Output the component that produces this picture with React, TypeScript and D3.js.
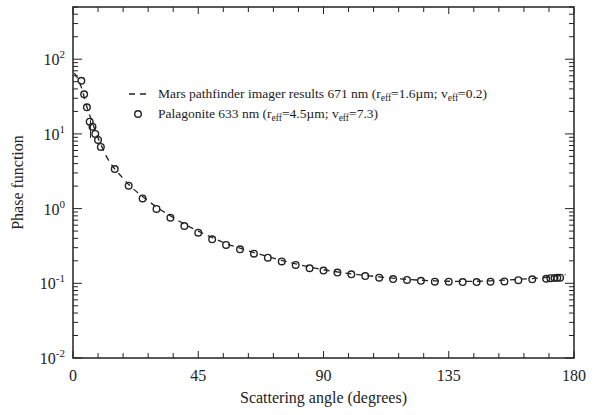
import React from 'react';
import * as d3 from 'd3';

// Palagonite 633 nm measured points [angle, phase function]
const palAngles = [3, 4, 5, 6, 7, 8, 9, 10, 15, 20, 25, 30, 35, 40, 45, 50, 55, 60, 65, 70, 75, 80, 85, 90, 95, 100, 105, 110, 115, 120, 125, 130, 135, 140, 145, 150, 155, 160, 165, 170, 171.5, 173, 174, 175];
const palValues = [51.5, 33.9, 22.7, 14.6, 12.5, 10, 8.3, 6.7, 3.39, 2.03, 1.37, 0.99, 0.755, 0.585, 0.476, 0.388, 0.326, 0.285, 0.249, 0.22, 0.196, 0.176, 0.159, 0.148, 0.139, 0.132, 0.125, 0.119, 0.114, 0.111, 0.108, 0.105, 0.105, 0.104, 0.104, 0.105, 0.106, 0.11, 0.113, 0.115, 0.117, 0.118, 0.119, 0.119];

// Mars pathfinder imager 671 nm curve
const marsAngles = [0.5, 2, 3, 5, 7, 9, 11, 12, 15, 17, 20, 25, 30, 35, 40, 45, 50, 55, 60, 70, 80, 90, 100, 110, 120, 130, 140, 150, 160, 170, 177];
const marsValues = [65, 52, 42, 23, 14, 8.8, 6.0, 5.0, 3.4, 2.8, 2.1, 1.45, 1.05, 0.8, 0.62, 0.5, 0.41, 0.34, 0.295, 0.228, 0.182, 0.152, 0.134, 0.122, 0.113, 0.108, 0.106, 0.108, 0.113, 0.12, 0.131];

// small vertical bar near the start
const barAngle = [6.3];
const barLow = [8.8];
const barHigh = [15.3];

const xTickValues = d3.range(0, 181, 9);
const xTickLabels = [0, 45, 90, 135, 180];
const yExponents = [-2, -1, 0, 1, 2];

const legendLabels = [
  { main: 'Mars pathfinder imager results 671 nm (r', s1: 'eff', mid: '=1.6\u00b5m; v', s2: 'eff', end: '=0.2)' },
  { main: 'Palagonite 633 nm (r', s1: 'eff', mid: '=4.5\u00b5m; v', s2: 'eff', end: '=7.3)' },
];

export default function App() {
  const width = 601;
  const height = 415;
  const margin = { top: 7, right: 27, bottom: 57, left: 73 };
  const w = width - margin.left - margin.right;
  const h = height - margin.top - margin.bottom;

  const x = d3.scaleLinear().domain([0, 180]).range([0, w]);
  const y = d3.scaleLog().domain([0.01, 500]).range([h, 0]);

  const marsData = marsAngles.map((a, i) => [a, marsValues[i]] as [number, number]);
  const palData = palAngles.map((a, i) => [a, palValues[i]] as [number, number]);

  const line = d3.line<[number, number]>()
    .x(d => x(d[0]))
    .y(d => y(d[1]))
    .curve(d3.curveMonotoneX);

  const yMinor: number[] = [];
  yExponents.forEach(e => {
    for (let m = 1; m <= 9; m++) {
      const v = m * Math.pow(10, e);
      if (v <= 500) yMinor.push(v);
    }
  });

  const font = '"Liberation Serif", "DejaVu Serif", serif';
  const transform = 'translate(' + margin.left + ',' + margin.top + ')';

  return (
    <svg width={width} height={height} style={{ position: 'absolute', left: 0, top: 0, background: '#fff' }}>
      <g transform={transform} fontFamily={font} fill="#222">
        <rect x={0} y={0} width={w} height={h} fill="none" stroke="#222" strokeWidth={1.5} />

        {xTickValues.map(t => {
          const len = t % 45 === 0 ? 7 : 5;
          return (
            <g key={'xt' + t}>
              <line x1={x(t)} x2={x(t)} y1={h} y2={h - len} stroke="#222" strokeWidth={1} />
              <line x1={x(t)} x2={x(t)} y1={0} y2={len} stroke="#222" strokeWidth={1} />
            </g>
          );
        })}
        {xTickLabels.map(t => (
          <text key={'xl' + t} x={x(t)} y={h + 23} textAnchor="middle" fontSize={16}>{t}</text>
        ))}

        {yMinor.map((v, i) => {
          const major = Math.abs(Math.log10(v) - Math.round(Math.log10(v))) < 1e-9;
          const len = major ? 9 : 5;
          return (
            <g key={'ym' + i}>
              <line x1={0} x2={len} y1={y(v)} y2={y(v)} stroke="#222" strokeWidth={1} />
              <line x1={w} x2={w - len} y1={y(v)} y2={y(v)} stroke="#222" strokeWidth={1} />
            </g>
          );
        })}
        {yExponents.map(e => (
          <text key={'yl' + e} x={-8} y={y(Math.pow(10, e)) + 6} textAnchor="end" fontSize={16}>
            10<tspan dy={-7} fontSize={11}>{e}</tspan>
          </text>
        ))}

        <text x={w / 2} y={h + 45} textAnchor="middle" fontSize={16}>Scattering angle (degrees)</text>
        <text transform={'translate(' + (-50) + ',' + h / 2 + ') rotate(-90)'} textAnchor="middle" fontSize={16}>Phase function</text>

        <path d={line(marsData) || ''} fill="none" stroke="#222" strokeWidth={1.3} strokeDasharray="6,5" />

        {barAngle.map((a, i) => (
          <line key={'eb' + i} x1={x(a)} x2={x(a)} y1={y(barHigh[i])} y2={y(barLow[i])} stroke="#222" strokeWidth={1} />
        ))}

        {palData.map((d, i) => (
          <circle key={'p' + i} cx={x(d[0])} cy={y(d[1])} r={3.3} fill="none" stroke="#222" strokeWidth={1.4} />
        ))}

        <g fontSize={13.5}>
          <line x1={56} x2={75} y1={87} y2={87} stroke="#222" strokeWidth={1.3} strokeDasharray="6,5" />
          <circle cx={65} cy={107} r={3.3} fill="none" stroke="#222" strokeWidth={1.4} />
          {legendLabels.map((l, i) => (
            <text key={'lg' + i} x={85} y={91 + i * 20}>
              {l.main}
              <tspan dy={3} fontSize={9.5}>{l.s1}</tspan>
              <tspan dy={-3}>{l.mid}</tspan>
              <tspan dy={3} fontSize={9.5}>{l.s2}</tspan>
              <tspan dy={-3}>{l.end}</tspan>
            </text>
          ))}
        </g>
      </g>
    </svg>
  );
}
